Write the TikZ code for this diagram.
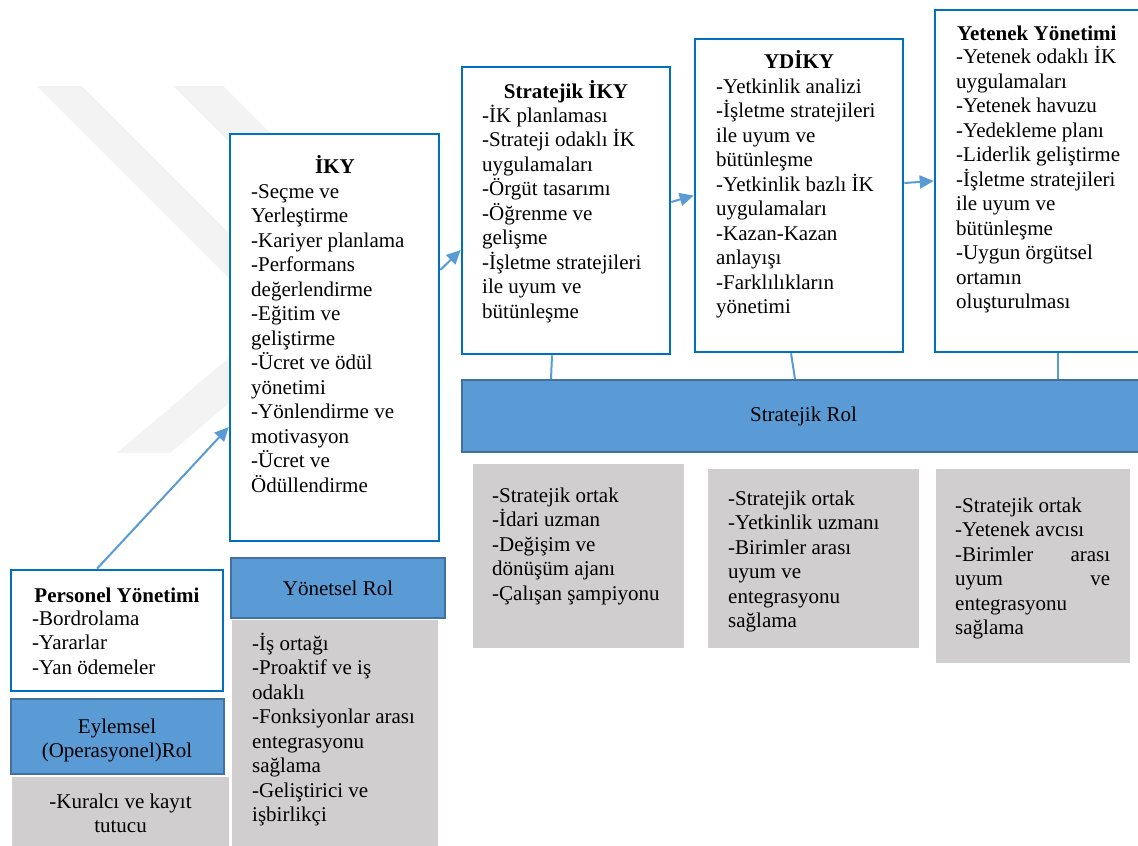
\documentclass[tikz,border=0pt]{standalone}
\usepackage{fontspec}
\setmainfont{Liberation Serif}
\usetikzlibrary{arrows.meta,calc}

\definecolor{boxblue}{HTML}{0070C0}
\definecolor{roleblue}{HTML}{5B9BD5}
\definecolor{roleedge}{HTML}{41719C}
\definecolor{dutygray}{HTML}{D0CECE}
\definecolor{linkblue}{HTML}{5B9BD5}
\definecolor{wmgray}{HTML}{F3F3F3}

% body text: 21pt Times-like, 24.5pt line pitch
\newcommand\fsz{\fontsize{21}{24.5}\selectfont}
% multi-line left-aligned block whose reference point is its first baseline
\newcommand\blines[1]{\parbox[t]{300pt}{\raggedright\fsz #1}}
% centred multi-line block, first baseline as reference
\newcommand\clines[1]{\parbox[t]{210pt}{\centering\fsz #1}}
% justified line of fixed width
\newcommand\jline[1]{\makebox[155pt][s]{#1}}
% rectangle node given by its corners (x1,y1)-(x2,y2), y measured downwards
\newcommand\mkbox[7]{%
  \node[#2, minimum width={(#5-#3)*1pt}, minimum height={(#6-#4)*1pt}]
    (#1) at ({(#3+#5)/2},{(#4+#6)/2}) {#7};}

\tikzset{
  stage/.style={rectangle, draw=boxblue, line width=2.6pt, fill=white, inner sep=0pt},
  role/.style={rectangle, draw=roleedge, line width=2pt, fill=roleblue, inner sep=0pt, font=\fsz},
  duty/.style={rectangle, fill=dutygray, inner sep=0pt},
  txt/.style={anchor=base west, inner sep=0pt, font=\fsz},
  ctxt/.style={anchor=base, inner sep=0pt, font=\fsz},
  ttl/.style={anchor=base, inner sep=0pt, font=\fsz\bfseries},
  flow/.style={draw=linkblue, line width=2pt, -{Triangle[length=14pt,width=13pt]}},
  link/.style={draw=linkblue, line width=2pt},
}

\begin{document}
\begin{tikzpicture}[x=1pt,y=-1pt]
\clip (0,0) rectangle (1138,846);
\fill[white] (0,0) rectangle (1138,846);

% faint chevron watermark behind the chart
\fill[wmgray] (37,86) -- (82,86) -- (321,325) -- (170,453) -- (117,453) -- (272,321) -- cycle;
\fill[wmgray] (173,86) -- (223,86) -- (330,193) -- (280,193) -- cycle;

% ---- boxes ----
\mkbox{pers}{stage}{11}{570}{223}{691}{}
\mkbox{eyl}{role}{11}{699}{224}{774}{}
\mkbox{kur}{duty}{12}{777}{229}{850}{}

\mkbox{iky}{stage}{230}{134}{439}{541}{}
\mkbox{yon}{role}{231}{558}{445}{618}{Yönetsel Rol}
\mkbox{isort}{duty}{232}{620}{438}{850}{}

\mkbox{siky}{stage}{462}{67}{670}{354}{}
\mkbox{ydiky}{stage}{695}{39}{903}{352}{}
\mkbox{yet}{stage}{935}{10}{1145}{352}{}
\mkbox{srol}{role}{462}{380}{1145}{452}{Stratejik Rol}

\mkbox{g1}{duty}{473}{464}{684}{648}{}
\mkbox{g2}{duty}{708}{469}{919}{648}{}
\mkbox{g3}{duty}{936}{469}{1130}{663}{}

% ---- operational stage ----
\node[ttl] (persH) at (117,602) {Personel Yönetimi};
\node[txt] (persT) at (32,625) {\blines{-Bordrolama\\-Yararlar\\-Yan ödemeler}};
\node[ctxt] (eylT) at (117,733) {\clines{Eylemsel\\(Operasyonel)Rol}};
\node[ctxt] (kurT) at (120.5,808) {\clines{-Kuralcı ve kayıt\\tutucu}};

% ---- managerial stage ----
\node[ttl] (ikyH) at (335,173) {İKY};
\node[txt] (ikyT) at (251,198) {\blines{-Seçme ve\\Yerleştirme\\-Kariyer planlama\\-Performans\\değerlendirme\\-Eğitim ve\\geliştirme\\-Ücret ve ödül\\yönetimi\\-Yönlendirme ve\\motivasyon\\-Ücret ve\\Ödüllendirme}};
\node[txt] (isortT) at (252,650) {\blines{-İş ortağı\\-Proaktif ve iş\\odaklı\\-Fonksiyonlar arası\\entegrasyonu\\sağlama\\-Geliştirici ve\\işbirlikçi}};

% ---- strategic stages ----
\node[ttl] (sikyH) at (566,98) {Stratejik İKY};
\node[txt] (sikyT) at (482,122) {\blines{-İK planlaması\\-Strateji odaklı İK\\uygulamaları\\-Örgüt tasarımı\\-Öğrenme ve\\gelişme\\-İşletme stratejileri\\ile uyum ve\\bütünleşme}};

\node[ttl] (ydikyH) at (799,68) {YDİKY};
\node[txt] (ydikyT) at (716,93) {\blines{-Yetkinlik analizi\\-İşletme stratejileri\\ile uyum ve\\bütünleşme\\-Yetkinlik bazlı İK\\uygulamaları\\-Kazan-Kazan\\anlayışı\\-Farklılıkların\\yönetimi}};

\node[txt, font=\fsz\bfseries] (yetH) at (957,40) {Yetenek Yönetimi};
\node[txt] (yetT) at (956,63.5) {\blines{-Yetenek odaklı İK\\uygulamaları\\-Yetenek havuzu\\-Yedekleme planı\\-Liderlik geliştirme\\-İşletme stratejileri\\ile uyum ve\\bütünleşme\\-Uygun örgütsel\\ortamın\\oluşturulması}};

\node[txt] (g1T) at (492,502) {\blines{-Stratejik ortak\\-İdari uzman\\-Değişim ve\\dönüşüm ajanı\\-Çalışan şampiyonu}};
\node[txt] (g2T) at (728,505) {\blines{-Stratejik ortak\\-Yetkinlik uzmanı\\-Birimler arası\\uyum ve\\entegrasyonu\\sağlama}};
\node[txt] (g3T) at (955,512) {\blines{-Stratejik ortak\\-Yetenek avcısı\\\jline{-Birimler\hfill arası}\\\jline{uyum\hfill ve}\\entegrasyonu\\sağlama}};

% ---- progression arrows ----
\draw[flow] ([xshift=-20pt]pers.north) -- ([yshift=-89.5pt]iky.west);
\draw[flow] ([yshift=67.5pt]iky.east) -- ([yshift=-39.5pt]siky.west);
\draw[flow] ([yshift=8.5pt]siky.east) -- (ydiky.west);
\draw[flow] ([yshift=12.5pt]ydiky.east) -- (yet.west);

% ---- ties to the strategic role bar ----
\coordinate (l1) at ([xshift=-15pt]siky.south);
\coordinate (l2) at ([xshift=-4pt]ydiky.south);
\coordinate (l3) at ([xshift=17.5pt]yet.south);
\draw[link] ([xshift=-14pt]siky.south) -- (l1 |- srol.north);
\draw[link] ([xshift=-8pt]ydiky.south) -- (l2 |- srol.north);
\draw[link] (l3) -- (l3 |- srol.north);
\end{tikzpicture}
\end{document}
